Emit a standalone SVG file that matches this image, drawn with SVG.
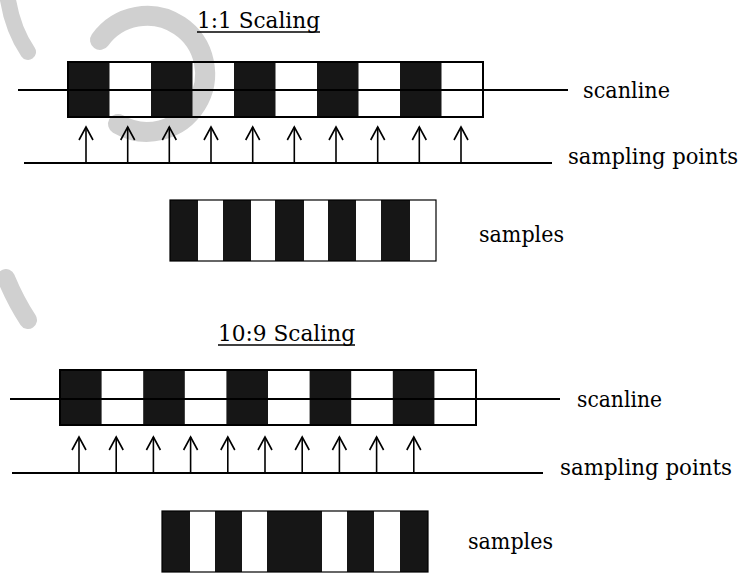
<svg xmlns="http://www.w3.org/2000/svg" width="751" height="573" viewBox="0 0 751 573">
<defs>
<style>
.smudge{fill:none;stroke:#d0d0d0;stroke-linecap:round}
.dark{fill:#161616}
.outline{fill:none;stroke:#000;stroke-width:2}
.line{stroke:#000;stroke-width:2;fill:none}
.arrow{stroke:#000;stroke-width:1.6;fill:none;marker-end:url(#chev)}
.lbl{font-family:"DejaVu Serif",serif;font-size:22px;fill:#000}
.title{font-family:"DejaVu Serif",serif;font-size:23px;fill:#000}
.ul{stroke:#000;stroke-width:1.3}
</style>
<marker id="chev" markerUnits="userSpaceOnUse" markerWidth="20" markerHeight="20" refX="0" refY="0" orient="auto" overflow="visible">
<path d="M-13,-7 L0,0 L-13,7" fill="none" stroke="#000" stroke-width="1.6"/>
</marker>
</defs>
<rect width="751" height="573" fill="#fff"/>
<g id="smudges">
<path class="smudge" stroke-width="20" d="M100,40 A58,58 0 1 1 118,124"/>
<path class="smudge" stroke-width="16" d="M8,0 Q13,30 28,52"/>
<path class="smudge" stroke-width="18" d="M6,278 Q16,302 28,320"/>
</g>

<g id="title-1-1">
<text class="title" x="197" y="28" textLength="123" lengthAdjust="spacingAndGlyphs">1:1 Scaling</text>
<line class="ul" x1="197" y1="32" x2="320" y2="32"/>
</g>

<g id="scanline-1-1">
<rect class="dark" x="68" y="62" width="41.5" height="55"/>
<rect class="dark" x="151" y="62" width="41.5" height="55"/>
<rect class="dark" x="234" y="62" width="41.5" height="55"/>
<rect class="dark" x="317" y="62" width="41.5" height="55"/>
<rect class="dark" x="400" y="62" width="41.5" height="55"/>
<rect class="outline" x="68" y="62" width="415" height="55"/>
<line class="line" x1="18" y1="90" x2="568" y2="90"/>
<text class="lbl" x="583" y="98" textLength="87" lengthAdjust="spacingAndGlyphs">scanline</text>
</g>

<g id="sampling-1-1">
<line class="line" x1="24" y1="163" x2="552" y2="163"/>
<text class="lbl" x="568" y="164" textLength="170" lengthAdjust="spacingAndGlyphs">sampling points</text>
</g>

<g id="samples-1-1">
<rect class="dark" x="170" y="200" width="28" height="61"/>
<rect class="dark" x="223" y="200" width="28" height="61"/>
<rect class="dark" x="275" y="200" width="29" height="61"/>
<rect class="dark" x="328" y="200" width="28" height="61"/>
<rect class="dark" x="381" y="200" width="29" height="61"/>
<rect x="170" y="200" width="266" height="61" fill="none" stroke="#000" stroke-width="1.2"/>
<text class="lbl" x="479" y="242" textLength="85" lengthAdjust="spacingAndGlyphs">samples</text>
</g>

<g id="title-10-9">
<text class="title" x="218" y="341" textLength="137" lengthAdjust="spacingAndGlyphs">10:9 Scaling</text>
<line class="ul" x1="218" y1="345" x2="355" y2="345"/>
</g>

<g id="scanline-10-9">
<rect class="dark" x="60" y="370" width="41.6" height="55"/>
<rect class="dark" x="143.2" y="370" width="41.6" height="55"/>
<rect class="dark" x="226.4" y="370" width="41.6" height="55"/>
<rect class="dark" x="309.6" y="370" width="41.6" height="55"/>
<rect class="dark" x="392.8" y="370" width="41.6" height="55"/>
<rect class="outline" x="60" y="370" width="416" height="55"/>
<line class="line" x1="10" y1="399" x2="560" y2="399"/>
<text class="lbl" x="577" y="407" textLength="85" lengthAdjust="spacingAndGlyphs">scanline</text>
</g>

<g id="sampling-10-9">
<line class="line" x1="12" y1="473" x2="543" y2="473"/>
<text class="lbl" x="560" y="475" textLength="172" lengthAdjust="spacingAndGlyphs">sampling points</text>
</g>

<g id="samples-10-9">
<rect class="dark" x="162" y="511" width="28" height="61"/>
<rect class="dark" x="215" y="511" width="27" height="61"/>
<rect class="dark" x="267" y="511" width="55" height="61"/>
<rect class="dark" x="347" y="511" width="27" height="61"/>
<rect class="dark" x="400" y="511" width="28" height="61"/>
<rect x="162" y="511" width="266" height="61" fill="none" stroke="#000" stroke-width="1.2"/>
<text class="lbl" x="468" y="549" textLength="85" lengthAdjust="spacingAndGlyphs">samples</text>
</g>

<g id="connectors">
<line class="arrow" x1="86" y1="163" x2="86" y2="127"/>
<line class="arrow" x1="127.7" y1="163" x2="127.7" y2="127"/>
<line class="arrow" x1="169.3" y1="163" x2="169.3" y2="127"/>
<line class="arrow" x1="211" y1="163" x2="211" y2="127"/>
<line class="arrow" x1="252.7" y1="163" x2="252.7" y2="127"/>
<line class="arrow" x1="294.3" y1="163" x2="294.3" y2="127"/>
<line class="arrow" x1="336" y1="163" x2="336" y2="127"/>
<line class="arrow" x1="377.7" y1="163" x2="377.7" y2="127"/>
<line class="arrow" x1="419.3" y1="163" x2="419.3" y2="127"/>
<line class="arrow" x1="461" y1="163" x2="461" y2="127"/>
<line class="arrow" x1="79" y1="473" x2="79" y2="437"/>
<line class="arrow" x1="116.2" y1="473" x2="116.2" y2="437"/>
<line class="arrow" x1="153.4" y1="473" x2="153.4" y2="437"/>
<line class="arrow" x1="190.6" y1="473" x2="190.6" y2="437"/>
<line class="arrow" x1="227.8" y1="473" x2="227.8" y2="437"/>
<line class="arrow" x1="265" y1="473" x2="265" y2="437"/>
<line class="arrow" x1="302.2" y1="473" x2="302.2" y2="437"/>
<line class="arrow" x1="339.4" y1="473" x2="339.4" y2="437"/>
<line class="arrow" x1="376.6" y1="473" x2="376.6" y2="437"/>
<line class="arrow" x1="413.8" y1="473" x2="413.8" y2="437"/>
</g>
</svg>
